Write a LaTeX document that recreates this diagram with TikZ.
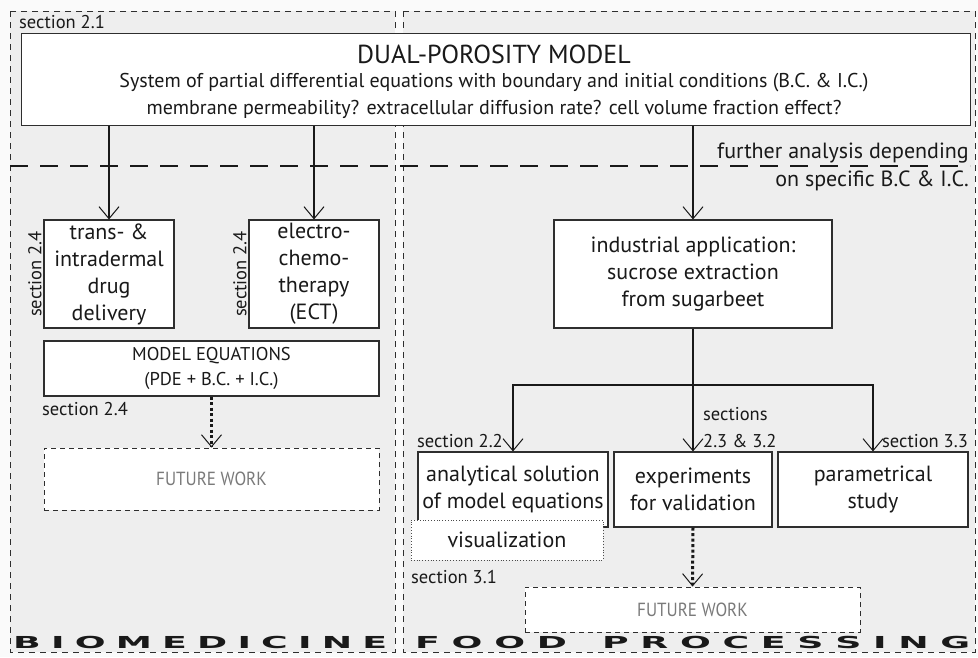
\documentclass[tikz,border=0pt]{standalone}
\usepackage{fontspec}
\usepackage{graphicx}
\setmainfont{PT Sans}
\newfontfamily\widefont{DejaVu Sans}
\usetikzlibrary{arrows.meta}
\definecolor{linec}{HTML}{2E2E2E}
\definecolor{panelgray}{HTML}{EEEEEE}
\definecolor{outergray}{HTML}{FAFAFA}
\definecolor{futgray}{HTML}{7A7A7A}
% one horizontally stretched capital of the panel titles
\newcommand\wl[1]{\scalebox{2.2}[1]{#1}}
\begin{document}
\begin{tikzpicture}[x=1pt, y=-1pt,
  box/.style={draw=linec, line width=1.1pt, fill=white, inner sep=0pt,
    align=center, text=black!90, font=\fontsize{22}{27}\selectfont},
  futbox/.style={draw=linec, line width=1pt, dash pattern=on 5pt off 4pt,
    fill=white, inner sep=0pt, text=futgray,
    font=\fontsize{19}{22}\selectfont},
  lbl/.style={inner sep=0pt, text=black!90, font=\fontsize{18.5}{22}\selectfont},
  panel/.style={draw=linec, line width=0.9pt, dash pattern=on 6pt off 5pt},
  tipV/.style={-{Straight Barb[length=12pt, width=20pt, line width=1pt]}},
  arr/.style={tipV, line width=2.6pt, draw=black!90},
  dotarr/.style={tipV, line width=3pt, draw=black!90, dash pattern=on 3pt off 2.5pt},
  bigword/.style={inner sep=0pt, anchor=base west, text=black!90,
    font=\widefont\bfseries\fontsize{16.5}{18}\selectfont}
]
\useasboundingbox (0,0) rectangle (978,657);
\fill[outergray] (0,0) rectangle (978,657);

% the two application panels
\fill[panelgray] (10,11) rectangle (395,652);
\fill[panelgray] (403,11) rectangle (975,652);
\draw[panel] (10,11) rectangle (395,652);
\draw[panel] (403,11) rectangle (975,652);

% boundary between general model and specific B.C. & I.C.
\draw[line width=2.6pt, draw=black!90, dash pattern=on 18pt off 12pt] (10,166) -- (970,166);

% general model
\node[box, minimum width=949pt, minimum height=92pt, anchor=north west] (top) at (21,33) {};
\node[inner sep=0pt, text=black!90, font=\fontsize{26}{28}\selectfont] (title) at (494,54) {DUAL-POROSITY MODEL};
\node[inner sep=0pt, text=black!90, font=\fontsize{20}{22}\selectfont] (sub1) at (494,83)
  {System of partial differential equations with boundary and initial conditions (B.C. \& I.C.)};
\node[inner sep=0pt, text=black!90, font=\fontsize{20}{22}\selectfont] (sub2) at (494,109)
  {membrane permeability? extracellular diffusion rate? cell volume fraction effect?};
\node[lbl, anchor=west] (s21) at (19,22) {section 2.1};

\node[lbl, anchor=east, font=\fontsize{22}{24}\selectfont] (fa1) at (969,153) {further analysis depending};
\node[lbl, anchor=east, font=\fontsize{22}{24}\selectfont] (fa2) at (969,181) {on specific B.C \& I.C.};

% biomedicine branch
\node[box, minimum width=130pt, minimum height=108pt] (trans) at (109,274)
  {trans- \&\\intradermal\\drug\\delivery};
\node[box, minimum width=130pt, minimum height=108pt] (ect) at (314,274)
  {electro-\\chemo-\\therapy\\(ECT)};
\node[lbl, rotate=90] (s24a) at (35,274) {section 2.4};
\node[lbl, rotate=90] (s24b) at (240,274) {section 2.4};
\node[box, minimum width=335pt, minimum height=55pt, font=\fontsize{18.5}{25}\selectfont] (model) at (211.5,368.5)
  {MODEL EQUATIONS\\(PDE + B.C. + I.C.)};
\node[lbl, anchor=west] (s24c) at (42,409) {section 2.4};
\node[futbox, minimum width=335pt, minimum height=62pt] (futL) at (211.5,479)
  {\scalebox{0.9}[1]{FUTURE WORK}};

\draw[arr] (top.south -| trans.north) -- (trans.north);
\draw[arr] (top.south -| ect.north) -- (ect.north);
\draw[dotarr] (model.south) -- (futL.north);

% food processing branch
\node[box, minimum width=278pt, minimum height=108pt] (ind) at (693,274)
  {industrial application:\\sucrose extraction\\from sugarbeet};
\draw[arr] (top.south -| ind.north) -- (ind.north);

\node[box, minimum width=190pt, minimum height=75pt] (ana) at (513,489.5)
  {analytical solution\\of model equations};
\node[box, minimum width=158pt, minimum height=75pt] (exper) at (693,489.5)
  {experiments\\for validation};
\node[box, minimum width=190pt, minimum height=75pt] (param) at (873,489.5)
  {parametrical\\study};
\node[box, draw=black!70, line width=0.8pt, dotted, minimum width=192pt, minimum height=40pt] (vis) at (507,540)
  {visualization};

\coordinate (branch) at (693,385);
\draw[line width=2.6pt, draw=black!90] (ind.south) -- (branch);
\draw[arr] (branch) -- (exper.north);
\draw[arr] (branch) -- (branch -| ana.north) -- (ana.north);
\draw[arr] (branch) -- (branch -| param.north) -- (param.north);

\node[lbl, anchor=east] (s22) at (503,441) {section 2.2};
\node[lbl, anchor=west] (s23a) at (703,414) {sections};
\node[lbl, anchor=west] (s23b) at (703,441) {2.3 \& 3.2};
\node[lbl, anchor=west] (s33) at (882,441) {section 3.3};
\node[lbl, anchor=west] (s31) at (411,577) {section 3.1};

\node[futbox, minimum width=335pt, minimum height=45pt] (futR) at (692.5,609.5)
  {\scalebox{0.9}[1]{FUTURE WORK}};
\draw[dotarr] (exper.south) -- (futR.north);

% panel titles
\node[bigword] (bio) at (13,648) {\makebox[374pt][s]{\wl{B}\hfill\wl{I}\hfill\wl{O}\hfill\wl{M}\hfill\wl{E}\hfill\wl{D}\hfill\wl{I}\hfill\wl{C}\hfill\wl{I}\hfill\wl{N}\hfill\wl{E}}};
\node[bigword] (food) at (415,648) {\makebox[555pt][s]{\wl{F}\hfill\wl{O}\hfill\wl{O}\hfill\wl{D}\hfill\hfill\hfill\wl{P}\hfill\wl{R}\hfill\wl{O}\hfill\wl{C}\hfill\wl{E}\hfill\wl{S}\hfill\wl{S}\hfill\wl{I}\hfill\wl{N}\hfill\wl{G}}};
\end{tikzpicture}
\end{document}
